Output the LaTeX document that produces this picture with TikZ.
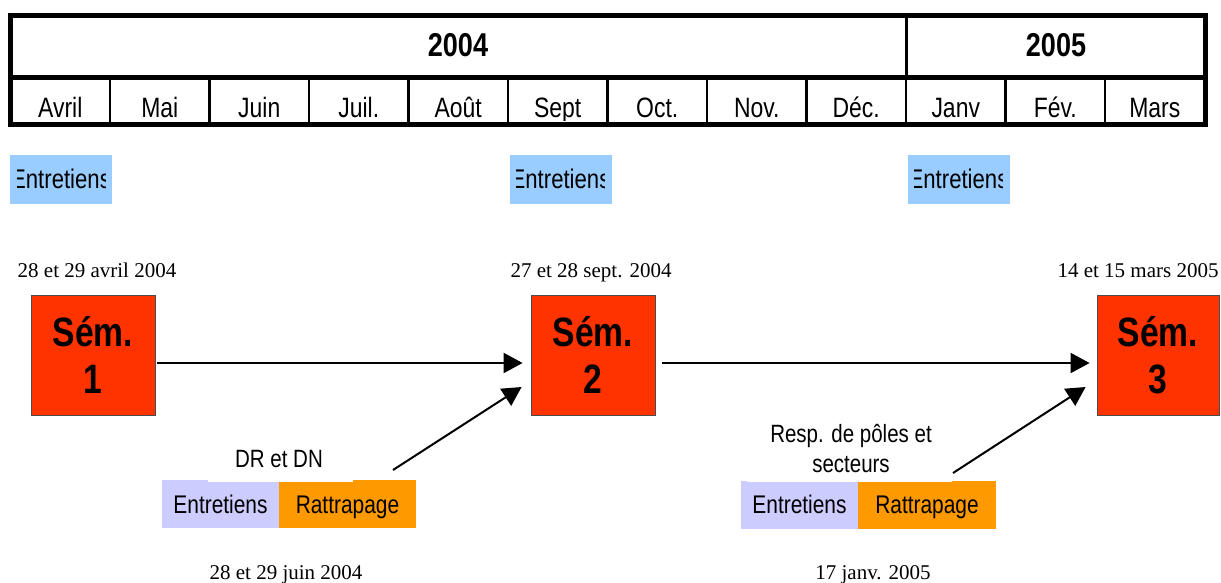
\documentclass[tikz,border=0pt]{standalone}
\usepackage{fontspec}
\setmainfont{Liberation Serif}
\newfontfamily\narrowsans[FakeStretch=0.82]{Liberation Sans}
\usetikzlibrary{arrows.meta,calc}

\definecolor{entblue}{HTML}{99CCFF}
\definecolor{semred}{HTML}{FF3300}
\definecolor{lavender}{HTML}{CCCCFF}
\definecolor{rattorange}{HTML}{FF9900}

\begin{document}
\begin{tikzpicture}[x=1pt,y=-1pt,
  month/.style={font=\narrowsans\fontsize{28}{30}\selectfont, anchor=base, inner sep=0pt},
  year/.style={font=\narrowsans\bfseries\fontsize{33}{36}\selectfont, inner sep=0pt},
  entbox/.style={fill=entblue, minimum width=102pt, minimum height=49pt, inner sep=0pt,
    path picture={
      \clip ([xshift=7pt]path picture bounding box.south west)
        rectangle ([xshift=-7pt]path picture bounding box.north east);
      \node[font=\narrowsans\fontsize{27}{30}\selectfont, text height=19pt, text depth=0pt, inner sep=0pt]
        at ([yshift=1pt]path picture bounding box.center) {Entretiens};
    }},
  datelabel/.style={font=\fontsize{21}{24}\selectfont, anchor=base, inner sep=0pt},
  sembox/.style={fill=semred, draw=black!70, line width=0.8pt, minimum height=120pt,
    inner sep=0pt, align=center, font=\narrowsans\bfseries\fontsize{41}{47}\selectfont},
  phase/.style={minimum height=48pt, inner sep=0pt, text height=18pt, text depth=0pt,
    font=\narrowsans\fontsize{25.5}{28}\selectfont},
  grouplabel/.style={inner sep=0pt, align=center, font=\narrowsans\fontsize{25}{30}\selectfont},
  arr/.style={line width=2pt, -{Triangle[length=19pt,width=20pt]}},
]
\useasboundingbox (0,0) rectangle (1221,582);

% ---- calendar header ----
\foreach \m [count=\i from 0] in {Avril,Mai,Juin,Juil.,Août,Sept,Oct.,Nov.,Déc.,Janv,Fév.,Mars} {
  \pgfmathsetmacro\xl{10.5+99.5*\i}
  \begin{scope}
    \clip (\xl,80) rectangle ({\xl+99.5},120);
    \node[month] (m\i) at ({\xl+49.75},117.5) {\m};
  \end{scope}
}
\foreach \i in {1,...,11} {
  \draw[line width=2.5pt] ({10.5+99.5*\i},77.5) -- ({10.5+99.5*\i},124.5);
}
\draw[line width=3pt] (906.5,15.5) -- (906.5,77.5);
\draw[line width=4.5pt] (10,77.5) -- (1205,77.5);
\draw[line width=5pt] (10,15.5) rectangle (1205,124.5);
\node[year] (y2004) at (458,45) {2004};
\node[year] (y2005) at (1056,45) {2005};

% ---- interview periods ----
\node[entbox] (e1) at (61,179.5) {};
\node[entbox] (e2) at (560.5,179.5) {};
\node[entbox] (e3) at (958.5,179.5) {};

% ---- seminars ----
\node[datelabel] (d1) at (97,277) {28 et 29 avril 2004};
\node[datelabel] (d2) at (591,277) {27 et 28 sept. 2004};
\node[datelabel] (d3) at (1138,277) {14 et 15 mars 2005};

\node[sembox, minimum width=124pt] (sem1) at (93,355) {Sém.\\1};
\node[sembox, minimum width=124pt] (sem2) at (593,355) {Sém.\\2};
\node[sembox, minimum width=122pt] (sem3) at (1158,355) {Sém.\\3};

\draw[arr] ($(sem1.east)+(2,8)$) -- ($(sem2.west)+(-8,8)$);
\draw[arr] ($(sem2.east)+(7,8)$) -- ($(sem3.west)+(-7,8)$);

% ---- intermediate sessions ----
\node[phase, fill=lavender, minimum width=117pt] (ent1) at (220.5,504) {Entretiens};
\node[phase, fill=rattorange, minimum width=137pt] (rat1) at (347.5,504) {Rattrapage};
\fill[white] (208,478) rectangle (353,482);
\node[grouplabel, text height=18pt, text depth=0pt] (g1) at (279,458) {DR et DN};
\node[datelabel] (b1) at (286,579) {28 et 29 juin 2004};

\node[phase, fill=lavender, minimum width=117pt] (ent2) at (799.5,504.5) {Entretiens};
\node[phase, fill=rattorange, minimum width=138pt] (rat2) at (927,504.5) {Rattrapage};
\fill[white] (747,478) rectangle (952,482);
\node[grouplabel] (g2) at (851,449) {Resp. de pôles et\\secteurs};
\node[datelabel] (b2) at (873,579) {17 janv. 2005};

\coordinate (s1) at (393,470);
\coordinate (s2) at (953,473);
\draw[arr] (s1) -- ($(sem2.west)+(-9,32)$);
\draw[arr] (s2) -- ($(sem3.west)+(-11,32)$);
\end{tikzpicture}
\end{document}
